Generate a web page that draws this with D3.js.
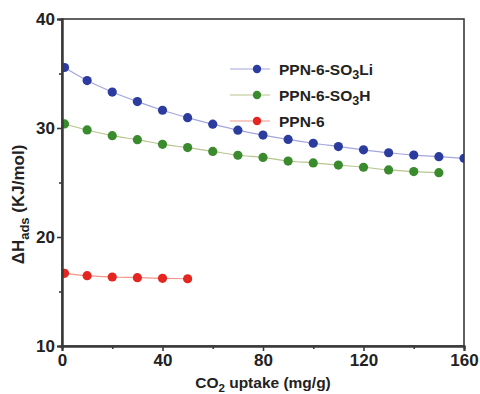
<!DOCTYPE html>
<html>
<head>
<meta charset="utf-8">
<script src="https://cdn.jsdelivr.net/npm/d3@7"></script>
<style>
  body { margin: 0; background: #fff; }
  text { font-family: "Liberation Sans", Arial, sans-serif; font-weight: bold; fill: #222; }
</style>
</head>
<body>
<div id="chart"></div>
<script>
// CO2 uptake (mg/g)
const uptakeLi = [1, 10, 20, 30, 40, 50, 60, 70, 80, 90, 100, 110, 120, 130, 140, 150, 160];
const uptakeH = [1, 10, 20, 30, 40, 50, 60, 70, 80, 90, 100, 110, 120, 130, 140, 150];
const uptakePlain = [1, 10, 20, 30, 40, 50];

// heat of adsorption (KJ/mol)
const hadsLi = [35.55, 34.35, 33.3, 32.42, 31.63, 30.95, 30.35, 29.8, 29.35, 28.95, 28.6, 28.3, 28.0, 27.73, 27.52, 27.37, 27.22];
const hadsH = [30.37, 29.82, 29.3, 28.93, 28.5, 28.2, 27.85, 27.5, 27.3, 26.97, 26.8, 26.6, 26.4, 26.15, 26.0, 25.9];
const hadsPlain = [16.67, 16.45, 16.33, 16.27, 16.21, 16.17];

const xTicks = [0, 40, 80, 120, 160];
const xMinor = [20, 60, 100, 140];
const yTicks = [10, 20, 30, 40];
const yMinor = [15, 25, 35];

const series = [
  { name: "PPN-6-SO", sub: "3", tail: "Li", xs: uptakeLi, ys: hadsLi, dot: "#2b3c9e", line: "#a3a6dc" },
  { name: "PPN-6-SO", sub: "3", tail: "H", xs: uptakeH, ys: hadsH, dot: "#3a8a2e", line: "#b9c48e" },
  { name: "PPN-6", sub: "", tail: "", xs: uptakePlain, ys: hadsPlain, dot: "#e42520", line: "#f2958a" }
];

const W = 480, H = 394;
const margin = { top: 19, right: 16, bottom: 48, left: 62 };
const width = W - margin.left - margin.right;
const height = H - margin.top - margin.bottom;

const svg = d3.select("#chart").append("svg")
  .attr("width", W)
  .attr("height", H);

const g = svg.append("g")
  .attr("transform", `translate(${margin.left},${margin.top})`);

const x = d3.scaleLinear().domain([0, 160]).range([0, width]);
const y = d3.scaleLinear().domain([10, 40]).range([height, 0]);

g.append("clipPath").attr("id", "plot")
  .append("rect").attr("width", width).attr("height", height);

// series
const line = d3.line().curve(d3.curveMonotoneX);
const plot = g.append("g").attr("clip-path", "url(#plot)");
series.forEach(s => {
  const pts = s.xs.map((v, i) => [x(v), y(s.ys[i])]);
  plot.append("path")
    .attr("d", line(pts))
    .attr("fill", "none")
    .attr("stroke", s.line)
    .attr("stroke-width", 1.2);
  plot.selectAll(null)
    .data(pts)
    .join("circle")
    .attr("cx", d => d[0])
    .attr("cy", d => d[1])
    .attr("r", 4.6)
    .attr("fill", s.dot);
});

// frame
g.append("rect")
  .attr("width", width).attr("height", height)
  .attr("fill", "none").attr("stroke", "#3a3a3a").attr("stroke-width", 1.6);

// axes
g.append("g")
  .attr("transform", `translate(0,${height})`)
  .call(d3.axisBottom(x).tickValues(xTicks).tickSize(5).tickPadding(3).tickFormat(d3.format("d")));
g.append("g")
  .attr("transform", `translate(0,${height})`)
  .call(d3.axisBottom(x).tickValues(xMinor).tickSize(3).tickFormat(""));
g.append("g")
  .call(d3.axisLeft(y).tickValues(yTicks).tickSize(5).tickPadding(2).tickFormat(d3.format("d")));
g.append("g")
  .call(d3.axisLeft(y).tickValues(yMinor).tickSize(3).tickFormat(""));

g.selectAll(".domain").attr("stroke", "#3a3a3a").attr("stroke-width", 2);
g.selectAll(".tick line").attr("stroke", "#3a3a3a").attr("stroke-width", 1.6);
g.selectAll(".tick text").style("font-size", "17px").attr("fill", "#222");

// axis titles
const xt = svg.append("text")
  .attr("x", margin.left + width / 2)
  .attr("y", H - 6)
  .attr("text-anchor", "middle")
  .style("font-size", "15.5px");
xt.append("tspan").text("CO");
xt.append("tspan").attr("dy", 4).style("font-size", "11.5px").text("2");
xt.append("tspan").attr("dy", -4).text(" uptake (mg/g)");

const yt = svg.append("text")
  .attr("transform", `translate(24,${margin.top + height / 2 + 22}) rotate(-90)`)
  .attr("text-anchor", "middle")
  .style("font-size", "17px");
yt.append("tspan").text("\u0394H");
yt.append("tspan").attr("dy", 5).style("font-size", "13px").text("ads");
yt.append("tspan").attr("dy", -5).text(" (KJ/mol)");

// legend
const legend = g.append("g").attr("transform", `translate(${230 - margin.left},${69 - margin.top})`);
series.forEach((s, i) => {
  const row = legend.append("g").attr("transform", `translate(0,${i * 26})`);
  row.append("line").attr("x1", 0).attr("x2", 40).attr("y1", 0).attr("y2", 0)
    .attr("stroke", s.line).attr("stroke-width", 1.2);
  row.append("circle").attr("cx", 27).attr("cy", 0).attr("r", 4.2).attr("fill", s.dot);
  const t = row.append("text").attr("x", 49).attr("y", 5.5).style("font-size", "15.5px");
  t.append("tspan").text(s.name);
  if (s.sub) {
    t.append("tspan").attr("dy", 4).style("font-size", "12.5px").text(s.sub);
    t.append("tspan").attr("dy", -4).text(s.tail);
  }
});
</script>
</body>
</html>
